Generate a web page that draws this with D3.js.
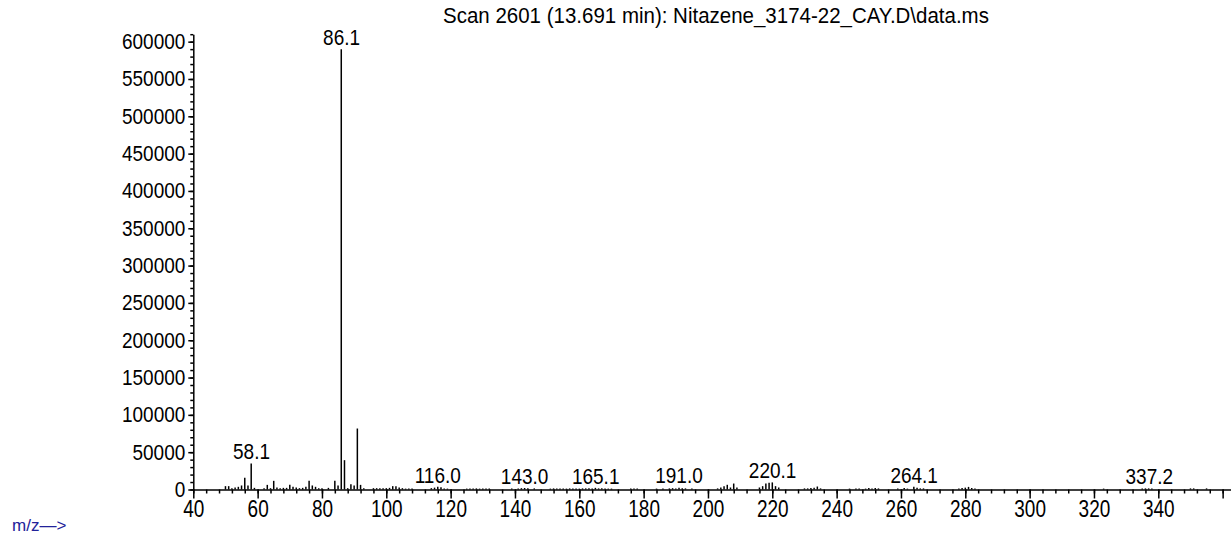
<!DOCTYPE html>
<html>
<head>
<meta charset="utf-8">
<script src="https://cdn.jsdelivr.net/npm/d3@7"></script>
<style>
  body { margin: 0; background: #fff; }
  text { font-family: "Liberation Sans", Arial, sans-serif; }
</style>
</head>
<body>
<script>
// m/z of each peak and its abundance
const peakMz = [
  50, 51, 52, 53, 54, 55, 56, 57, 58, 59,
  62, 63, 64, 65, 66, 67, 68, 69, 70, 71, 72, 73, 74, 75, 76, 77, 78, 79, 80,
  82, 84, 85, 86, 87, 88, 89, 90, 91, 92, 93,
  96, 97, 98, 99, 100, 101, 102, 103, 104, 105, 106, 107, 108,
  114, 115, 116, 117, 118, 119,
  125, 126, 127, 128, 129, 130, 131, 132,
  139, 141, 142, 143, 144, 146,
  151, 152, 153, 154, 155, 156, 157, 158, 159, 160, 161, 162, 163, 164, 165, 166, 167, 168, 169, 170,
  176, 177, 178,
  184, 186, 188, 189, 190, 191, 192, 193, 195,
  203, 204, 205, 206, 207, 208, 209,
  216, 217, 218, 219, 220, 221, 222,
  230, 231, 232, 233, 234, 235,
  244, 246, 247, 249, 250, 251, 252, 253,
  259, 261, 262, 264, 265, 266, 267,
  278, 279, 280, 281, 282, 283,
  323, 335, 336, 337, 338,
  350, 351, 355
];
const peakAbund = [
  4500, 4500, 1800, 2700, 3600, 5400, 15600, 5400, 34800, 2200,
  1800, 6200, 1800, 11600, 2700, 1800, 2200, 2200, 6200, 3600, 2700, 1800, 2200, 3600, 11600, 5400, 3600, 1800, 1800,
  2200, 11600, 5400, 590000, 39300, 1800, 7100, 5400, 81700, 6200, 1800,
  1800, 1800, 1800, 1800, 1800, 2200, 4500, 4500, 2700, 1800, 1200, 1200, 1200,
  1800, 2500, 3700, 3000, 1500, 1200,
  1200, 1500, 1200, 1500, 1200, 1500, 1200, 1200,
  1500, 1500, 1800, 2000, 1800, 1500,
  1200, 1500, 1200, 1500, 1500, 1200, 1500, 1200, 1500, 1200, 1500, 1500, 1800, 1500, 2200, 1500, 1800, 1500, 1200, 1200,
  1500, 1200, 1500,
  1200, 1500, 1500, 1800, 1500, 2400, 1800, 1500, 1200,
  1500, 2700, 4500, 6300, 2700, 8000, 2700,
  2700, 4500, 8000, 9000, 9500, 4500, 2700,
  1500, 1500, 2000, 2500, 4000, 1500,
  1200, 1500, 1500, 1200, 2000, 1500, 2000, 1500,
  1500, 2000, 1200, 3700, 2500, 1500, 1500,
  1200, 2000, 2500, 3500, 2000, 1200,
  1200, 1200, 1500, 1500, 1200,
  1500, 1500, 1500
];

// labelled peaks
const labelText = ["58.1", "86.1", "116.0", "143.0", "165.1", "191.0", "220.1", "264.1", "337.2"];

const xMajor = d3.range(40, 361, 20);
const xMinor = d3.range(40, 363, 4);
const yMajor = d3.range(0, 600001, 50000);
const yMinor = d3.range(0, 610001, 10000);

const title = "Scan 2601 (13.691 min): Nitazene_3174-22_CAY.D\\data.ms";

const width = 1231, height = 545;

const svg = d3.select("body").append("svg")
  .attr("width", width)
  .attr("height", height);

const x = d3.scaleLinear().domain([40, 362.6]).range([193.3, 1231]);
const y = d3.scaleLinear().domain([0, 610000]).range([489.5, 34.2]);

// peaks
svg.append("g")
  .selectAll("line")
  .data(peakMz)
  .join("line")
  .attr("x1", d => x(d)).attr("x2", d => x(d))
  .attr("y1", y(0))
  .attr("y2", (d, i) => y(peakAbund[i]))
  .attr("stroke", "#000")
  .attr("stroke-width", 1.5);

// x axis (no label on the last tick)
const xAxis = svg.append("g").attr("transform", "translate(0," + y(0) + ")");
xAxis.call(d3.axisBottom(x).tickValues(xMinor).tickSize(4).tickSizeOuter(0).tickFormat(""));
const xLabels = xAxis.append("g")
  .call(d3.axisBottom(x).tickValues(xMajor).tickSize(9).tickSizeOuter(0).tickPadding(3)
    .tickFormat(d => d < 360 ? d3.format("d")(d) : ""))
  .call(g => g.select(".domain").remove());

// y axis
const yAxis = svg.append("g").attr("transform", "translate(" + x(40) + ",0)");
yAxis.call(d3.axisLeft(y).tickValues(yMinor).tickSize(3).tickSizeOuter(0).tickFormat(""));
yAxis.append("g")
  .call(d3.axisLeft(y).tickValues(yMajor).tickSize(5).tickSizeOuter(0).tickPadding(3).tickFormat(d3.format("d")))
  .call(g => g.select(".domain").remove());

svg.selectAll(".domain, .tick line").attr("stroke", "#000").attr("stroke-width", 1.5);
svg.selectAll(".tick text")
  .attr("fill", "#000")
  .attr("font-size", 19)
  .attr("font-family", "Liberation Sans, Arial, sans-serif");

// peak labels
svg.append("g")
  .selectAll("text")
  .data(labelText)
  .join("text")
  .attr("x", d => x(+d))
  .attr("y", d => {
    const i = peakMz.indexOf(Math.round(+d));
    return y(peakAbund[i]) - 5;
  })
  .attr("text-anchor", "middle")
  .attr("font-size", 19)
  .text(d => d);

// title
svg.append("text")
  .attr("x", 716)
  .attr("y", 22)
  .attr("text-anchor", "middle")
  .attr("font-size", 20.5)
  .text(title);

// the reference font is taller than it is wide
svg.selectAll("text")
  .style("transform-box", "fill-box")
  .style("transform-origin", "center")
  .style("transform", "scaleY(1.12)");
xLabels.selectAll("text").style("transform", "scaleY(1.25)");

svg.append("text")
  .attr("x", 12)
  .attr("y", 531)
  .attr("font-size", 17)
  .attr("fill", "#22229a")
  .text("m/z\u2014>");
</script>
</body>
</html>
